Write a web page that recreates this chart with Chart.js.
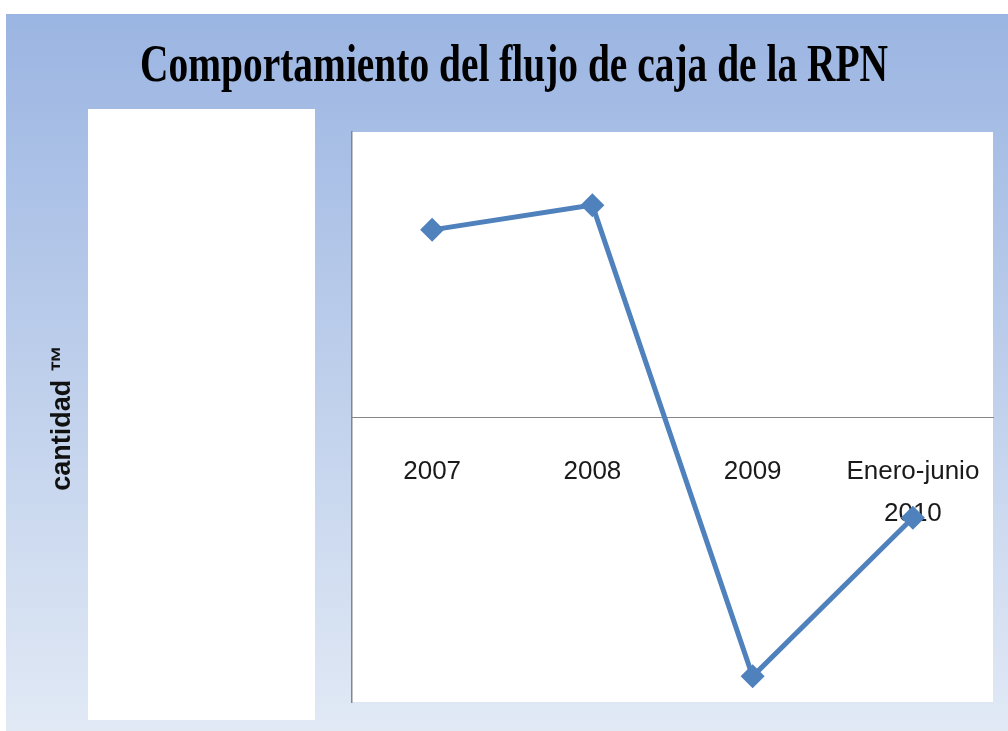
<!DOCTYPE html>
<html>
<head>
<meta charset="utf-8">
<script src="https://cdn.jsdelivr.net/npm/chart.js@4.4.1/dist/chart.umd.min.js"></script>
<style>
  html, body { margin: 0; padding: 0; background: #ffffff; }
  #wrap { width: 1008px; height: 731px; }
</style>
</head>
<body>
<div id="wrap"><canvas id="flujoChart" width="1008" height="731"></canvas></div>
<script>
// -------- datos del grafico ----------------
const categorias = ["2007", "2008", "2009", ["Enero-junio", "2010"]];
const flujoCaja = [197, 223, -273, -106];
const ejeYMin = -300;
const ejeYMax = 300;

// -------- textos ----------
const tituloGrafico = "Comportamiento del flujo de caja de la RPN";
const tituloEjeY = "cantidad \u2122";

// --- fondo azul, cuadros blancos y textos sueltos ---
const fondoPlugin = {
      id: "fondo",
      beforeDraw(chart) {
            const ctx = chart.ctx;
            const area = chart.chartArea;
            ctx.save();
            ctx.fillStyle = "#ffffff";
            ctx.fillRect(0, 0, chart.width, chart.height);

            // degradado azul
            const grad = ctx.createLinearGradient(0, 14, 0, chart.height);
            grad.addColorStop(0, "#9bb5e2");
            grad.addColorStop(1, "#e1e9f5");
            ctx.fillStyle = grad;
            ctx.fillRect(6, 14, chart.width - 6, chart.height - 14);

            // cuadro blanco de la izquierda
            ctx.fillStyle = "#ffffff";
            ctx.fillRect(88, 109, 227, 611);

            // area del grafico
            ctx.fillRect(area.left, area.top, area.right - area.left, area.bottom - area.top);

            // titulo (serif, comprimido)
            ctx.font = 'bold 52px "Liberation Serif", "DejaVu Serif", serif';
            ctx.fillStyle = "#000000";
            ctx.textAlign = "center";
            ctx.textBaseline = "middle";
            const w = ctx.measureText(tituloGrafico).width;
            ctx.translate(514, 68);
            ctx.scale(748 / w, 1);
            ctx.fillText(tituloGrafico, 0, 0);
            ctx.restore();

            // titulo eje Y (vertical)
            ctx.save();
            ctx.font = 'bold 27px "Liberation Sans", Arial, sans-serif';
            ctx.fillStyle = "#111111";
            ctx.textAlign = "center";
            ctx.textBaseline = "alphabetic";
            ctx.translate(70, 418);
            ctx.rotate(-Math.PI / 2);
            ctx.fillText(tituloEjeY, 0, 0);
            ctx.restore();
      },
};

const ctx = document.getElementById("flujoChart");

new Chart(ctx, {
      type: "line",
      data: {
            labels: categorias,
            datasets: [
                  {
                        label: "Flujo de caja",
                        data: flujoCaja,
                        borderColor: "#4f81bd",
                        backgroundColor: "#4f81bd",
                        borderWidth: 5,
                        pointStyle: "rectRot",
                        pointRadius: 12,
                        pointHoverRadius: 12,
                        pointBackgroundColor: "#4f81bd",
                        pointBorderColor: "#4f81bd",
                        pointBorderWidth: 0,
                        tension: 0,
                        clip: false,
                  },
            ],
      },
      options: {
            responsive: false,
            animation: false,
            layout: {
                  padding: { left: 352, right: 15, top: 132, bottom: 29 },
            },
            plugins: {
                  legend: { display: false },
                  tooltip: { enabled: false },
            },
            scales: {
                  x: {
                        type: "category",
                        offset: true,
                        position: { y: 0 },
                        // marcas invisibles: sirven solo para bajar las etiquetas
                        grid: {
                              display: true,
                              drawOnChartArea: false,
                              drawTicks: true,
                              tickLength: 34,
                              tickColor: "rgba(0,0,0,0)",
                        },
                        border: { display: true, color: "#868686", width: 1 },
                        ticks: {
                              color: "#1a1a1a",
                              padding: 0,
                              maxRotation: 0,
                              autoSkip: false,
                              font: {
                                    family: '"Liberation Sans", Arial, sans-serif',
                                    size: 26,
                                    lineHeight: 1.62,
                              },
                        },
                  },
                  y: {
                        min: ejeYMin,
                        max: ejeYMax,
                        grid: { display: false, drawTicks: false },
                        border: { display: true, color: "#868686", width: 1.5 },
                        ticks: { display: false },
                  },
            },
      },
      plugins: [fondoPlugin],
});
</script>
</body>
</html>
